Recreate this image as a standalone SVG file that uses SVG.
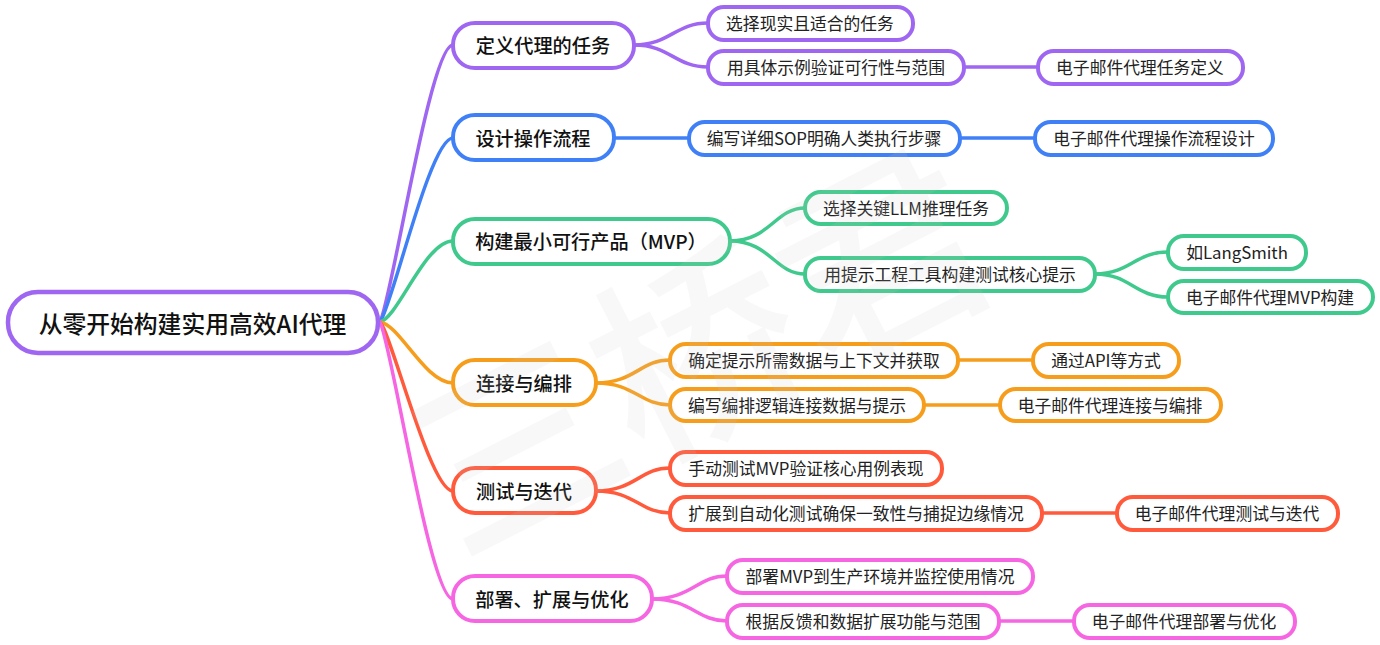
<svg xmlns="http://www.w3.org/2000/svg" width="1380" height="645" viewBox="0 0 1380 645">
<style>
text{font-family:"Noto Sans CJK SC","Noto Sans",sans-serif;fill:#111;text-anchor:middle;dominant-baseline:central}
.r rect{stroke-width:4.5;fill:#fff}
.t0{font-size:23.8px;font-weight:500;transform:translateY(-.5px)}
.t1{font-size:19.2px;font-weight:500;transform:translateY(-.5px)}
.t2{font-size:16.8px;font-weight:400;fill:#222;transform:translateY(-.5px)}
rect{fill:#fff;stroke-width:4}
path{fill:none;stroke-width:3.5;stroke-linecap:round}
.pu{stroke:#9f66f2}.bl{stroke:#4080f7}.gr{stroke:#3fc98c}.or{stroke:#f69d1c}.re{stroke:#ff5a3c}.pi{stroke:#f665e2}
.wm{font-size:205px;font-weight:500;fill:#c8c8c8;fill-opacity:.13}
</style>
<g id="connectors">
<path class="pu" d="M380 322C392 300 430 45 453 45"/>
<path class="bl" d="M380 322C392 307 430 138 453 138"/>
<path class="gr" d="M380 322C398 318 425 241 453 241"/>
<path class="or" d="M380 322C400 325 425 383 453 383"/>
<path class="re" d="M380 322C392 335 430 491 453 491"/>
<path class="pi" d="M380 322C392 345 430 599 453 599"/>
<path class="pu" d="M634 45C670 45 675 23 708 23"/>
<path class="pu" d="M634 45C670 45 675 67 708 67"/>
<path class="pu" d="M964 67H1038"/>
<path class="bl" d="M614 138H689"/>
<path class="bl" d="M960 138H1035"/>
<path class="gr" d="M730 241C770 241 775 208 805 208"/>
<path class="gr" d="M730 241C770 241 775 274 805 274"/>
<path class="gr" d="M1095 274C1130 274 1135 252 1168 252"/>
<path class="gr" d="M1095 274C1130 274 1135 297 1168 297"/>
<path class="or" d="M596 383C635 383 640 360 670 360"/>
<path class="or" d="M596 383C635 383 640 405 670 405"/>
<path class="or" d="M958 360H1033"/>
<path class="or" d="M924 405H1000"/>
<path class="re" d="M596 491C635 491 640 468 670 468"/>
<path class="re" d="M596 491C635 491 640 513 670 513"/>
<path class="re" d="M1042 513H1117"/>
<path class="pi" d="M652 599C692 599 697 576 727 576"/>
<path class="pi" d="M652 599C692 599 697 621 727 621"/>
<path class="pi" d="M999 621H1074"/>
</g>
<g id="root" class="r"><rect class="pu" x="8" y="292" width="370" height="61" rx="30"/><text class="t0" x="192.500" y="323">从零开始构建实用高效AI代理</text></g>
<g id="n1"><rect class="pu" x="453" y="23" width="181" height="45" rx="22"/><text class="t1" x="543" y="45">定义代理的任务</text></g>
<g id="n11"><rect class="pu" x="708" y="7" width="205" height="33" rx="16"/><text class="t2" x="810" y="23">选择现实且适合的任务</text></g>
<g id="n12"><rect class="pu" x="708" y="51" width="256" height="33" rx="16"/><text class="t2" x="836" y="67">用具体示例验证可行性与范围</text></g>
<g id="n121"><rect class="pu" x="1038" y="51" width="205" height="33" rx="16"/><text class="t2" x="1140" y="67">电子邮件代理任务定义</text></g>
<g id="n2"><rect class="bl" x="453" y="115" width="161" height="45" rx="22"/><text class="t1" x="533" y="138">设计操作流程</text></g>
<g id="n21"><rect class="bl" x="689" y="122" width="271" height="33" rx="16"/><text class="t2" x="824" y="138">编写详细SOP明确人类执行步骤</text></g>
<g id="n211"><rect class="bl" x="1035" y="122" width="238" height="33" rx="16"/><text class="t2" x="1154" y="138">电子邮件代理操作流程设计</text></g>
<g id="n3"><rect class="gr" x="453" y="219" width="277" height="45" rx="22"/><text class="t1" x="591" y="241">构建最小可行产品（MVP）</text></g>
<g id="n31"><rect class="gr" x="805" y="192" width="202" height="32" rx="16"/><text class="t2" x="906" y="208">选择关键LLM推理任务</text></g>
<g id="n32"><rect class="gr" x="805" y="258" width="290" height="33" rx="16"/><text class="t2" x="950" y="274">用提示工程工具构建测试核心提示</text></g>
<g id="n321"><rect class="gr" x="1168" y="236" width="138" height="33" rx="16"/><text class="t2" x="1237" y="252">如LangSmith</text></g>
<g id="n322"><rect class="gr" x="1168" y="281" width="205" height="32" rx="16"/><text class="t2" x="1270" y="297">电子邮件代理MVP构建</text></g>
<g id="n4"><rect class="or" x="453" y="360" width="143" height="45" rx="22"/><text class="t1" x="524" y="383">连接与编排</text></g>
<g id="n41"><rect class="or" x="670" y="344" width="288" height="33" rx="16"/><text class="t2" x="814" y="360">确定提示所需数据与上下文并获取</text></g>
<g id="n411"><rect class="or" x="1033" y="344" width="146" height="33" rx="16"/><text class="t2" x="1106" y="360">通过API等方式</text></g>
<g id="n42"><rect class="or" x="670" y="389" width="254" height="32" rx="16"/><text class="t2" x="797" y="405">编写编排逻辑连接数据与提示</text></g>
<g id="n421"><rect class="or" x="1000" y="389" width="221" height="32" rx="16"/><text class="t2" x="1110" y="405">电子邮件代理连接与编排</text></g>
<g id="n5"><rect class="re" x="453" y="468" width="143" height="45" rx="22"/><text class="t1" x="524" y="491">测试与迭代</text></g>
<g id="n51"><rect class="re" x="670" y="452" width="272" height="33" rx="16"/><text class="t2" x="806" y="468">手动测试MVP验证核心用例表现</text></g>
<g id="n52"><rect class="re" x="670" y="497" width="372" height="33" rx="16"/><text class="t2" x="856" y="513">扩展到自动化测试确保一致性与捕捉边缘情况</text></g>
<g id="n521"><rect class="re" x="1117" y="497" width="221" height="33" rx="16"/><text class="t2" x="1227" y="513">电子邮件代理测试与迭代</text></g>
<g id="n6"><rect class="pi" x="453" y="576" width="199" height="45" rx="22"/><text class="t1" x="552" y="599">部署、扩展与优化</text></g>
<g id="n61"><rect class="pi" x="727" y="560" width="306" height="33" rx="16"/><text class="t2" x="880" y="576">部署MVP到生产环境并监控使用情况</text></g>
<g id="n62"><rect class="pi" x="727" y="605" width="272" height="33" rx="16"/><text class="t2" x="863" y="621">根据反馈和数据扩展功能与范围</text></g>
<g id="n621"><rect class="pi" x="1074" y="605" width="221" height="33" rx="16"/><text class="t2" x="1184" y="621">电子邮件代理部署与优化</text></g>
<g id="watermark"><text class="wm" transform="translate(692 340) rotate(-27)">三桥君</text></g>
</svg>
